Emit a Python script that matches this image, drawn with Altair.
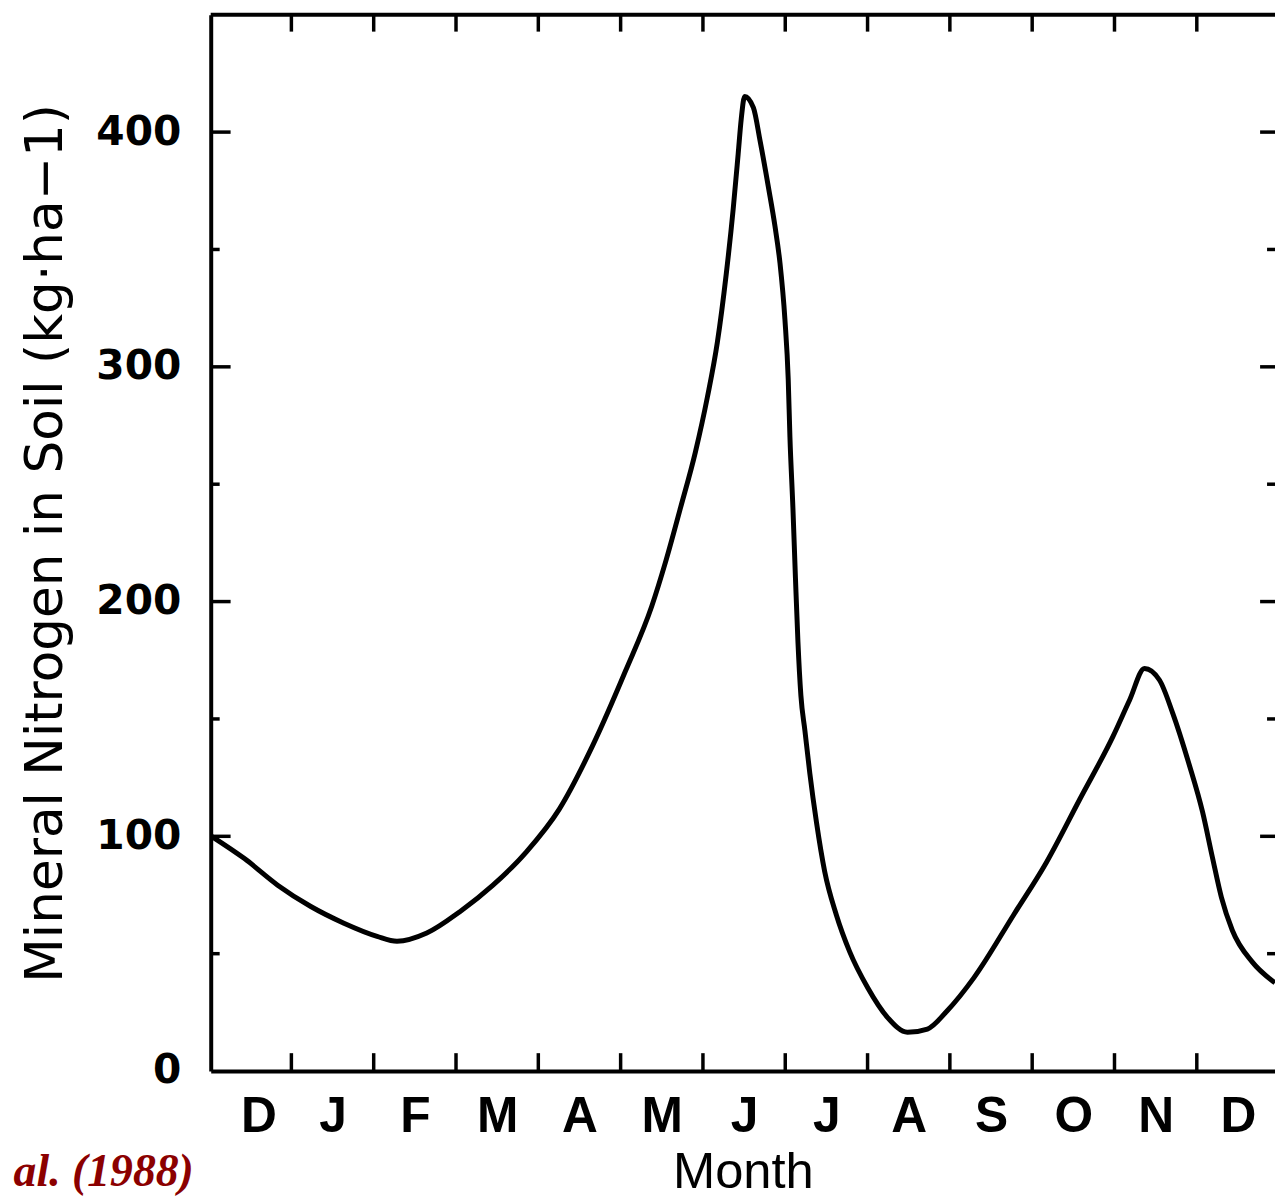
import json
import altair as alt
import pandas as pd

# ---- data ----
# month position (0 = start of the plotted period, 1 = J tick, ...)
curve_m = [0.03, 0.430, 0.833, 1.236, 1.638, 2.041, 2.283, 2.645, 3.047, 3.449,
           3.853, 4.255, 4.657, 5.060, 5.378, 5.547, 5.728, 5.909, 6.054, 6.175,
           6.283, 6.368, 6.428, 6.465, 6.507, 6.613, 6.694, 6.795, 6.876, 6.936,
           6.996, 7.036, 7.057, 7.093, 7.124, 7.154, 7.190, 7.239, 7.298, 7.379,
           7.479, 7.621, 7.781, 8.002, 8.244, 8.485, 8.727, 8.968, 9.291, 9.774,
           10.176, 10.580, 10.982, 11.184, 11.365, 11.546, 11.707, 11.908, 12.069, 12.190,
           12.299, 12.431, 12.673, 12.950]
# mineral nitrogen (kg/ha)
curve_n = [100.0, 90.5, 79.2, 70.1, 63.0, 57.4, 55.3, 58.8, 67.9, 79.2,
           93.3, 111.6, 138.4, 170.5, 198.0, 217.0, 240.0, 263.8, 287.1, 310.4,
           339.5, 367.4, 390.7, 405.5, 415.2, 410.4, 396.3, 376.6, 359.7, 344.2,
           320.2, 294.8, 270.0, 240.0, 210.0, 183.0, 160.0, 145.0, 127.0, 106.0,
           85.0, 66.5, 51.0, 35.5, 22.8, 16.5, 17.9, 25.7, 39.7, 66.5,
           89.1, 115.9, 142.6, 158.1, 171.5, 166.6, 152.5, 130.5, 110.5, 91.0,
           74.0, 60.0, 46.5, 37.6]

month_labels = ["D", "J", "F", "M", "A", "M", "J", "J", "A", "S", "O", "N", "D"]
month_label_pos = [0.6, 1.5, 2.5, 3.5, 4.5, 5.5, 6.5, 7.5, 8.5, 9.5, 10.5, 11.5, 12.5]
month_ticks = [1, 2, 3, 4, 5, 6, 7, 8, 9, 10, 11, 12]
y_label_values = [0, 100, 200, 300, 400]
y_major_ticks = [100, 200, 300, 400]
y_minor_ticks = [50, 150, 250, 350]
x_domain = [0.02, 12.95]
y_domain = [0, 450]

x_title = "Month"
y_title = "Mineral Nitrogen in Soil (kg·ha−1)"
citation = "al. (1988)"

# ---- layout ----
W, H = 1071, 1063
LW = 3.5

df = pd.DataFrame({"m": curve_m, "v": curve_n})
mt = pd.DataFrame({"m": month_ticks})
ymaj = pd.DataFrame({"v": y_major_ticks})
ymin = pd.DataFrame({"v": y_minor_ticks})

xs = alt.Scale(domain=x_domain, nice=False, zero=False)
ys = alt.Scale(domain=y_domain, nice=False)

label_expr = json.dumps(month_labels) + "[round(datum.value - 0.5)]"

x_axis = alt.Axis(
    values=month_label_pos, labelExpr=label_expr, ticks=False, tickSize=0,
    domain=True, domainColor="black", domainWidth=4, grid=False,
    labelFont="Liberation Sans", labelFontWeight="bold", labelFontSize=50,
    labelColor="black", labelPadding=20.5, labelOverlap=False, labelFlush=False,
    labelBound=False, title=x_title, titleFont="Liberation Sans", titleFontSize=51,
    titleFontWeight="normal", titleColor="black", titleX=W / 2, titleY=117,
    titleAlign="center", titleBaseline="alphabetic")

y_axis = alt.Axis(
    values=y_label_values, format="d", ticks=False, tickSize=0,
    domain=True, domainColor="black", domainWidth=4, grid=False,
    labelFont="DejaVu Sans", labelFontWeight="bold", labelFontSize=41,
    labelColor="black", labelPadding=30, labelOverlap=False, labelFlush=False,
    labelBound=False, title=y_title, titleFont="DejaVu Sans", titleFontSize=52,
    titleFontWeight="normal", titleColor="black", titleX=-150, titleY=H / 2,
    titleAngle=270, titleAlign="center", titleBaseline="alphabetic")

X = alt.X("m:Q", scale=xs, axis=x_axis)
Y = alt.Y("v:Q", scale=ys, axis=y_axis)

line = alt.Chart(df).mark_line(color="black", strokeWidth=5, interpolate="monotone").encode(x=X, y=Y)

bottom_ticks = alt.Chart(mt).mark_rule(color="black", strokeWidth=LW).encode(
    x=X, y=alt.value(H - 18), y2=alt.value(H))
top_ticks = alt.Chart(mt).mark_rule(color="black", strokeWidth=LW).encode(
    x=X, y=alt.value(0), y2=alt.value(17))
left_major = alt.Chart(ymaj).mark_rule(color="black", strokeWidth=LW).encode(
    y=Y, x=alt.value(0), x2=alt.value(20))
left_minor = alt.Chart(ymin).mark_rule(color="black", strokeWidth=LW).encode(
    y=Y, x=alt.value(0), x2=alt.value(9))
right_major = alt.Chart(ymaj).mark_rule(color="black", strokeWidth=LW).encode(
    y=Y, x=alt.value(W - 15), x2=alt.value(W))
right_minor = alt.Chart(ymin).mark_rule(color="black", strokeWidth=LW).encode(
    y=Y, x=alt.value(W - 8), x2=alt.value(W))
top_frame = alt.Chart(pd.DataFrame({"a": [0]})).mark_rule(color="black", strokeWidth=4).encode(
    x=alt.value(0), x2=alt.value(W), y=alt.value(0))

cite = alt.Chart(pd.DataFrame({"t": [citation]})).mark_text(
    align="right", baseline="alphabetic", font="Liberation Serif", fontStyle="italic",
    fontWeight="bold", fontSize=46, color="#8b0000").encode(
    text="t:N", x=alt.value(-17), y=alt.value(1179))

chart = alt.layer(
    top_frame, bottom_ticks, top_ticks, left_major, left_minor, right_major, right_minor,
    line, cite
).properties(
    width=W, height=H,
    autosize=alt.AutoSizeParams(type="none"),
    padding={"left": 204, "top": 3, "right": 0, "bottom": 128},
    background="white",
).configure_view(stroke=None)

chart.save("out.html", embed_options={"renderer": "svg", "actions": False})
